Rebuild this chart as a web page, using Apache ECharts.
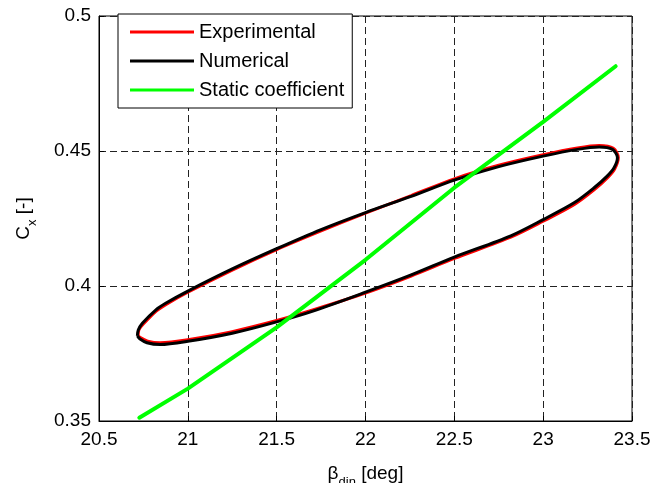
<!DOCTYPE html>
<html>
<head>
<meta charset="utf-8">
<script src="https://cdn.jsdelivr.net/npm/echarts@6/dist/echarts.min.js"></script>
<style>
  html, body { margin: 0; padding: 0; background: #fff; }
  #chart { width: 651px; height: 483px; }
</style>
</head>
<body>
<div id="chart"></div>
<script>
// measured loop: left tip -> upper branch -> right tip -> lower branch -> back
const expX = [20.720, 20.725, 20.748, 20.822, 20.878, 21.0, 21.253, 21.5, 21.75, 22.0, 22.257, 22.5, 22.75, 23.0, 23.193, 23.315, 23.395, 23.423,
  23.403, 23.364, 23.29, 23.176, 23.0, 22.818, 22.5, 22.257, 22.0, 21.717, 21.5, 21.25, 21.0, 20.844, 20.774, 20.733, 20.720];
const expY = [0.3817, 0.3838, 0.3858, 0.3907, 0.3932, 0.3977, 0.4060, 0.4135, 0.4204, 0.4270, 0.4335, 0.4397, 0.4447, 0.4486, 0.4511, 0.4520, 0.4510, 0.4476,
  0.4434, 0.4402, 0.4358, 0.4302, 0.4240, 0.4181, 0.4102, 0.4037, 0.3974, 0.3914, 0.3872, 0.3831, 0.3801, 0.3790, 0.3796, 0.3809, 0.3817];

const numX = [20.716, 20.721, 20.744, 20.819, 20.875, 21.0, 21.253, 21.5, 21.75, 22.0, 22.257, 22.5, 22.75, 23.0, 23.193, 23.315, 23.39, 23.418,
  23.399, 23.36, 23.287, 23.174, 23.0, 22.818, 22.5, 22.257, 22.0, 21.717, 21.5, 21.25, 21.0, 20.844, 20.77, 20.729, 20.716];
const numY = [0.3815, 0.3837, 0.3862, 0.3911, 0.3936, 0.3981, 0.4064, 0.4138, 0.4209, 0.4272, 0.4332, 0.4392, 0.4442, 0.4481, 0.4506, 0.4515, 0.4506, 0.4475,
  0.4438, 0.4407, 0.4364, 0.4308, 0.4246, 0.4186, 0.4107, 0.4041, 0.3977, 0.3910, 0.3867, 0.3825, 0.3795, 0.3783, 0.3790, 0.3805, 0.3815];

const staticX = [20.727, 21.0, 21.5, 22.0, 22.5, 23.0, 23.408];
const staticY = [0.3512, 0.362, 0.3847, 0.4097, 0.4364, 0.4608, 0.4814];

const seriesNames = ["Experimental", "Numerical", "Static coefficient"];

const pairs = (xs, ys) => xs.map((x, i) => [x, ys[i]]);

const font = "'Liberation Sans', Arial, sans-serif";
const chart = echarts.init(document.getElementById("chart"));

const nameRich = {
  m: { fontFamily: font, fontSize: 19, color: "#000", lineHeight: 30 },
  s: { fontFamily: font, fontSize: 13, color: "#000", lineHeight: 14, verticalAlign: "bottom" },
};

const option = {
  animation: false,
  backgroundColor: "#fff",
  grid: {
    left: 99, right: 19, top: 16, bottom: 62,
    containLabel: false,
    outerBoundsMode: "none",
    show: true, borderColor: "#000", borderWidth: 1,
  },
  legend: {
    data: seriesNames,
    orient: "vertical",
    left: 118, top: 14,
    padding: [8, 8, 8, 12],
    itemGap: 9,
    icon: "rect",
    itemWidth: 64,
    itemHeight: 3,
    backgroundColor: "#fff",
    borderColor: "#000",
    borderWidth: 1,
    borderRadius: 0,
    textStyle: { fontFamily: font, fontSize: 20, color: "#000", lineHeight: 20 },
  },
  xAxis: {
    type: "value",
    min: 20.5, max: 23.5, interval: 0.5,
    name: "{m|β}{s|din}{m| [deg]}",
    nameLocation: "middle",
    nameGap: 38,
    nameTextStyle: { rich: nameRich },
    axisLine: { lineStyle: { color: "#000", width: 1 } },
    axisTick: { inside: true, length: 5, lineStyle: { color: "#000" } },
    axisLabel: { fontFamily: font, fontSize: 19, color: "#000", margin: 9 },
    splitLine: { show: true, lineStyle: { color: "#222", type: [7, 4], width: 1 } },
  },
  yAxis: {
    type: "value",
    min: 0.35, max: 0.5, interval: 0.05,
    name: "{m|C}{s|x}{m| [-]}",
    nameLocation: "middle",
    nameRotate: 90,
    nameGap: 60,
    nameTextStyle: { rich: nameRich },
    axisLine: { lineStyle: { color: "#000", width: 1 } },
    axisTick: { inside: true, length: 5, lineStyle: { color: "#000" } },
    axisLabel: { fontFamily: font, fontSize: 19, color: "#000", margin: 8 },
    splitLine: { show: true, lineStyle: { color: "#222", type: [7, 4], width: 1 } },
  },
  series: [
    {
      name: seriesNames[0],
      type: "line",
      data: pairs(expX, expY),
      symbol: "none",
      smooth: 0.3,
      lineStyle: { color: "#ff0000", width: 3 },
      itemStyle: { color: "#ff0000" },
    },
    {
      name: seriesNames[1],
      type: "line",
      data: pairs(numX, numY),
      symbol: "none",
      smooth: 0.3,
      lineStyle: { color: "#000000", width: 3 },
      itemStyle: { color: "#000000" },
    },
    {
      name: seriesNames[2],
      type: "line",
      data: pairs(staticX, staticY),
      symbol: "none",
      lineStyle: { color: "#00ff00", width: 4, cap: "round" },
      itemStyle: { color: "#00ff00" },
    },
  ],
};

chart.setOption(option);
</script>
</body>
</html>
